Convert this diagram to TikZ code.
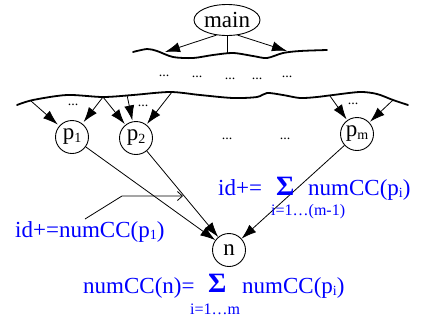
\documentclass[tikz,border=0pt]{standalone}
\usepackage{fontspec}
\setmainfont{Liberation Serif}
\usetikzlibrary{arrows.meta,shapes.geometric}
\newcommand\mysub[1]{\raisebox{-0.28ex}{\fontsize{14}{14}\selectfont #1}}
\begin{document}
\begin{tikzpicture}[x=1pt,y=-1pt,
  wave/.style={line width=1.8pt,line cap=round},
  conn/.style={line width=0.8pt,-{Latex[length=15pt,width=10pt]}},
  plainline/.style={line width=0.8pt},
  proc/.style={circle,draw,line width=0.9pt,minimum size=33pt,inner sep=0pt,font=\fontsize{23}{23}\selectfont},
  bluetext/.style={text=blue,anchor=base west,inner sep=0pt,font=\fontsize{23}{23}\selectfont},
  sigmatext/.style={text=blue,anchor=base west,inner sep=0pt,font=\fontsize{28}{28}\selectfont\bfseries},
  subtext/.style={text=blue,anchor=base west,inner sep=0pt,font=\fontsize{16}{16}\selectfont},
  dotstext/.style={anchor=base,inner sep=0pt,font=\fontsize{14}{14}\selectfont}]
\useasboundingbox (0,0) rectangle (430,322);
% main
\node[ellipse,draw,line width=0.9pt,minimum width=66pt,minimum height=31pt,inner sep=0pt,font=\fontsize{23}{23}\selectfont] (main) at (227,20) {main};
% top wave
\draw[wave] plot[smooth] coordinates {(133,52) (147,49) (157,51) (173,57) (193,58) (213,55) (233,53) (253,56) (267,58) (283,53) (300,51) (327,50)};
\coordinate (ml) at (165,52);
\coordinate (mm) at (227,54);
\coordinate (mr) at (287,51);
\draw[conn] (main.235) -- (ml);
\draw[conn] (main.305) -- (mr);
\draw[plainline] (main.south) -- (mm);
% middle dots
\node[dotstext] (d1) at (164,76) {...};
\node[dotstext] (d2) at (197,77) {...};
\node[dotstext] (d3) at (230,79) {...};
\node[dotstext] (d4) at (257,79) {...};
\node[dotstext] (d5) at (287,77) {...};
% second wave
\draw[wave] plot[smooth] coordinates {(17,105) (33,100) (67,95) (103,97) (133,95) (170,92) (200,95) (233,98) (257,97) (267,93) (283,95) (300,98) (317,97) (333,95) (360,92) (377,94) (393,100) (408,105)};
% processes
\node[proc] (p1) at (72,137) {p\mysub{1}};
\node[proc] (p2) at (136,138) {p\mysub{2}};
\node[proc] (pm) at (357,134) {p\mysub{m}};
\node[dotstext] (d6) at (227,139) {...};
\node[dotstext] (d7) at (285,139) {...};
\node[dotstext] (d8) at (73,105) {...};
\node[dotstext] (d9) at (143,106) {...};
\node[dotstext] (d10) at (353,104) {...};
% arrows to processes
\coordinate (a1) at (31,101);
\coordinate (a2) at (103,97);
\coordinate (a3) at (127,95);
\coordinate (a4) at (172,92);
\coordinate (a5) at (330,96);
\coordinate (a6) at (393,100);
\draw[conn,shorten >=2pt] (a1) -- (p1);
\draw[conn,shorten >=2pt] (a2) -- (p1);
\draw[conn,shorten >=1pt] (a2) -- (p2);
\draw[conn,shorten >=1pt] (a3) -- (p2);
\draw[conn,shorten >=1pt] (a4) -- (p2);
\draw[conn,shorten >=1pt] (a5) -- (pm);
\draw[conn,shorten >=1pt] (a6) -- (pm);
% n
\node[proc] (n) at (229,250) {n};
\draw[conn] (p1) -- (n);
\draw[conn] (p2) -- (n);
\draw[conn] (pm) -- (n);
% annotation
\coordinate (b1) at (85,219);
\coordinate (b2) at (122,196);
\coordinate (b3) at (183,196);
\draw[plainline,-{Straight Barb[length=5pt,width=9pt]}] (b1) -- (b2) -- (b3);
% labels
\node[bluetext] (l1) at (15,237) {id+=numCC(p\mysub{1})};
\node[bluetext] (l2) at (218,195) {id+=};
\node[sigmatext] (s2) at (276,195) {Σ};
\node[bluetext] (l3) at (308,195) {numCC(p\mysub{i})};
\node[subtext] (u2) at (271,215) {i=1…(m-1)};
\node[bluetext] (l4) at (83,293) {numCC(n)=};
\node[sigmatext] (s4) at (208,292) {Σ};
\node[bluetext] (l5) at (242,293) {numCC(p\mysub{i})};
\node[subtext] (u4) at (190,314) {i=1…m};
\end{tikzpicture}
\end{document}
